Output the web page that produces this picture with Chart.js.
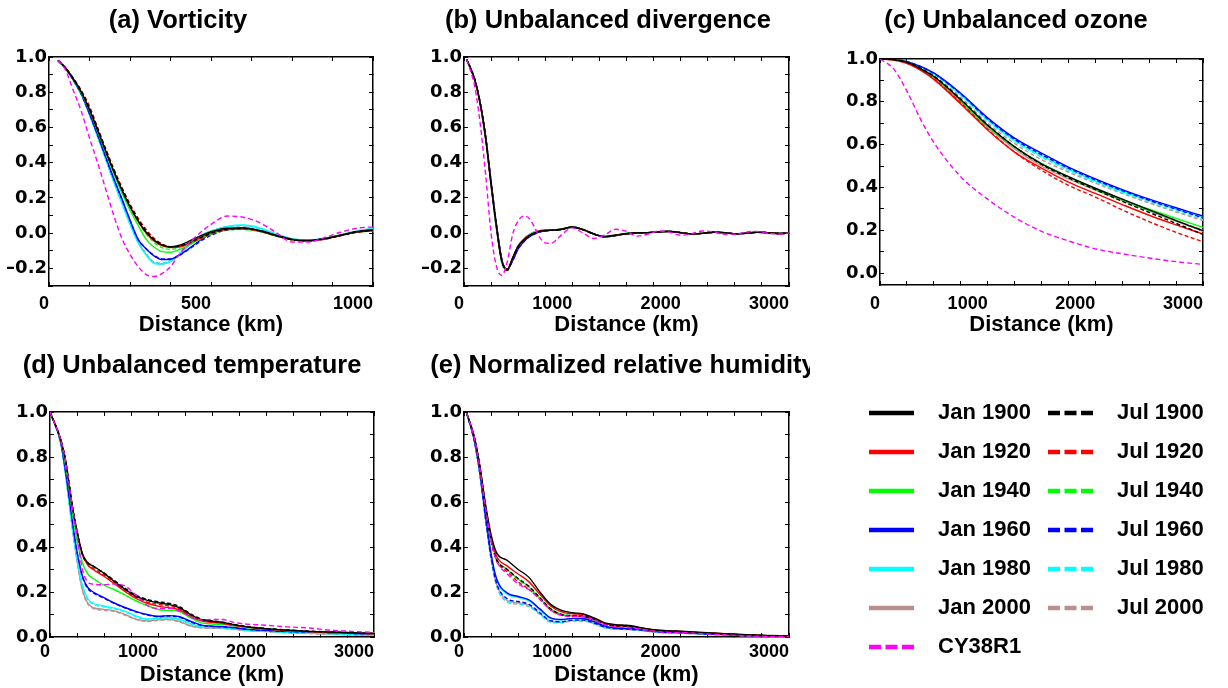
<!DOCTYPE html>
<html><head><meta charset="utf-8">
<script src="https://cdn.jsdelivr.net/npm/chart.js@4.4.1/dist/chart.umd.min.js"></script>
<style>
html,body{margin:0;padding:0;background:#fff;width:1228px;height:688px;overflow:hidden;position:relative}
canvas{position:absolute}
</style></head><body>
<canvas id="cA" width="400" height="345" style="left:0px;top:0px"></canvas>
<canvas id="cB" width="400" height="345" style="left:410px;top:0px"></canvas>
<canvas id="cC" width="402" height="345" style="left:826px;top:0px"></canvas>
<canvas id="cD" width="400" height="370" style="left:0px;top:318px"></canvas>
<canvas id="cE" width="400" height="370" style="left:410px;top:318px"></canvas>
<canvas id="cL" width="420" height="300" style="left:852px;top:385px"></canvas>
<script>
// ---------- series meta ----------
const seriesNames = ['Jan 1900','Jul 1900','Jan 1920','Jul 1920','Jan 1940','Jul 1940','Jan 1960','Jul 1960','Jan 1980','Jul 1980','Jan 2000','Jul 2000','CY38R1'];
const seriesColors = ['#000000','#000000','#ff0000','#ff0000','#00ff00','#00ff00','#0000ff','#0000ff','#00ffff','#00ffff','#bc8f8f','#bc8f8f','#ff00ff'];
const seriesDashed = [false,true,false,true,false,true,false,true,false,true,false,true,true];
const legendOrder = [0,2,4,6,8,10,12,1,3,5,7,9,11];

// ---------- tick lists ----------
const xTicks1000 = [0,125,250,375,500,625,750,875,1000];
const xLabels1000 = [0,500,1000];
const xTicks3000 = [0,250,500,750,1000,1250,1500,1750,2000,2250,2500,2750,3000];
const xLabels3000 = [0,1000,2000,3000];
const yTicksNeg = [-0.3,-0.2,-0.1,0,0.1,0.2,0.3,0.4,0.5,0.6,0.7,0.8,0.9,1.0];
const yTicksPos = [0,0.1,0.2,0.3,0.4,0.5,0.6,0.7,0.8,0.9,1.0];
const yLabels = [-0.2,0,0.2,0.4,0.6,0.8,1.0];

// ---------- (a) Vorticity ----------
const distA = [28,50,75,100,125,150,175,200,225,250,275,300,325,350,375,400,425,450,475,500,550,600,650,700,750,800,850,900,950,1000];
const vortJan1900 = [0.98,0.94,0.875,0.80,0.70,0.585,0.465,0.35,0.245,0.15,0.07,0.005,-0.04,-0.068,-0.077,-0.07,-0.052,-0.03,-0.01,0.008,0.028,0.03,0.015,-0.012,-0.035,-0.042,-0.032,-0.012,0.008,0.018];
const vortJul1900 = [0.98,0.94,0.878,0.805,0.71,0.595,0.475,0.36,0.255,0.16,0.078,0.012,-0.035,-0.065,-0.078,-0.075,-0.06,-0.04,-0.02,0.0,0.022,0.027,0.013,-0.014,-0.037,-0.043,-0.033,-0.013,0.006,0.016];
const vortJan1920 = [0.98,0.94,0.876,0.80,0.702,0.588,0.468,0.352,0.246,0.15,0.068,0.0,-0.045,-0.072,-0.082,-0.078,-0.062,-0.04,-0.018,0.002,0.022,0.025,0.012,-0.014,-0.037,-0.044,-0.034,-0.014,0.006,0.015];
const vortJul1920 = [0.98,0.94,0.88,0.81,0.72,0.60,0.48,0.365,0.26,0.165,0.085,0.02,-0.03,-0.062,-0.078,-0.078,-0.065,-0.045,-0.025,-0.005,0.02,0.025,0.012,-0.015,-0.038,-0.045,-0.035,-0.015,0.005,0.015];
const vortJan1940 = [0.98,0.94,0.874,0.795,0.695,0.578,0.455,0.338,0.228,0.13,0.045,-0.035,-0.08,-0.105,-0.108,-0.095,-0.075,-0.05,-0.026,-0.005,0.02,0.022,0.01,-0.015,-0.036,-0.041,-0.031,-0.011,0.005,0.012];
const vortJul1940 = [0.98,0.94,0.877,0.80,0.705,0.59,0.467,0.352,0.245,0.148,0.063,-0.005,-0.055,-0.083,-0.092,-0.085,-0.066,-0.044,-0.022,-0.002,0.02,0.024,0.011,-0.015,-0.037,-0.042,-0.032,-0.012,0.006,0.014];
const vortJan1960 = [0.98,0.938,0.87,0.79,0.68,0.56,0.435,0.31,0.195,0.075,-0.035,-0.09,-0.13,-0.15,-0.148,-0.127,-0.097,-0.063,-0.03,-0.005,0.025,0.03,0.015,-0.012,-0.035,-0.042,-0.03,-0.012,0.008,0.02];
const vortJul1960 = [0.98,0.938,0.87,0.788,0.678,0.557,0.432,0.307,0.192,0.073,-0.035,-0.088,-0.127,-0.146,-0.146,-0.128,-0.1,-0.068,-0.037,-0.012,0.018,0.022,0.01,-0.015,-0.037,-0.043,-0.031,-0.012,0.007,0.018];
const vortJan1980 = [0.98,0.937,0.868,0.785,0.672,0.548,0.42,0.29,0.17,0.05,-0.055,-0.125,-0.172,-0.175,-0.16,-0.125,-0.08,-0.04,-0.008,0.012,0.038,0.046,0.03,-0.004,-0.032,-0.04,-0.03,-0.01,0.012,0.028];
const vortJul1980 = [0.98,0.937,0.868,0.786,0.674,0.55,0.423,0.293,0.173,0.054,-0.05,-0.12,-0.167,-0.17,-0.155,-0.121,-0.078,-0.039,-0.008,0.011,0.035,0.042,0.026,-0.006,-0.034,-0.041,-0.03,-0.01,0.01,0.025];
const vortJan2000 = [0.98,0.937,0.868,0.786,0.674,0.55,0.423,0.294,0.175,0.056,-0.05,-0.122,-0.17,-0.175,-0.16,-0.126,-0.082,-0.042,-0.01,0.01,0.036,0.044,0.028,-0.005,-0.033,-0.041,-0.03,-0.01,0.011,0.026];
const vortJul2000 = [0.98,0.937,0.869,0.787,0.676,0.552,0.426,0.297,0.178,0.06,-0.045,-0.117,-0.165,-0.17,-0.155,-0.121,-0.078,-0.04,-0.009,0.01,0.034,0.042,0.026,-0.006,-0.033,-0.041,-0.03,-0.01,0.011,0.026];
const vortCY38R1 = [0.98,0.93,0.81,0.69,0.54,0.40,0.25,0.10,-0.03,-0.12,-0.19,-0.235,-0.246,-0.228,-0.19,-0.125,-0.07,-0.025,0.015,0.05,0.097,0.09,0.06,0.005,-0.05,-0.05,-0.025,0.005,0.028,0.036];

// ---------- (b) Unbalanced divergence ----------
const distB = [25,50,100,150,200,250,300,350,400,450,500,550,600,650,700,750,800,850,900,1000,1100,1200,1300,1400,1500,1600,1700,1800,1900,2000,2100,2200,2300,2400,2500,2600,2700,2800,2900,3000];
const divJan1900 = [0.985,0.95,0.87,0.735,0.54,0.28,0.035,-0.16,-0.205,-0.14,-0.075,-0.04,-0.015,0.0,0.01,0.015,0.017,0.018,0.022,0.035,0.02,-0.005,-0.02,-0.012,-0.003,0.002,0.003,0.008,0.01,0.003,-0.004,-0.001,0.005,0.003,-0.003,-0.001,0.005,0.003,-0.002,0.0];
const divJul1900 = [0.985,0.95,0.87,0.737,0.545,0.285,0.04,-0.158,-0.21,-0.145,-0.078,-0.042,-0.016,0.0,0.01,0.014,0.016,0.018,0.022,0.034,0.019,-0.006,-0.021,-0.013,-0.003,0.002,0.003,0.008,0.01,0.003,-0.004,-0.001,0.005,0.003,-0.003,-0.001,0.005,0.003,-0.002,0.0];
const divJan1920 = [0.985,0.95,0.868,0.733,0.538,0.278,0.032,-0.162,-0.205,-0.138,-0.073,-0.038,-0.013,0.002,0.012,0.016,0.018,0.019,0.023,0.034,0.02,-0.005,-0.019,-0.011,-0.003,0.002,0.003,0.008,0.01,0.003,-0.004,-0.001,0.005,0.003,-0.003,-0.001,0.005,0.003,-0.002,0.0];
const divJul1920 = [0.985,0.95,0.87,0.736,0.542,0.283,0.038,-0.16,-0.21,-0.143,-0.077,-0.041,-0.015,0.001,0.011,0.015,0.017,0.018,0.022,0.034,0.019,-0.006,-0.02,-0.012,-0.003,0.002,0.003,0.008,0.01,0.003,-0.004,-0.001,0.005,0.003,-0.003,-0.001,0.005,0.003,-0.002,0.0];
const divJan1940 = [0.985,0.95,0.868,0.732,0.536,0.276,0.03,-0.163,-0.207,-0.14,-0.074,-0.038,-0.013,0.003,0.013,0.017,0.019,0.02,0.024,0.035,0.02,-0.005,-0.019,-0.011,-0.002,0.002,0.003,0.008,0.01,0.003,-0.004,-0.001,0.005,0.003,-0.003,-0.001,0.005,0.003,-0.002,0.0];
const divJul1940 = [0.985,0.95,0.869,0.735,0.54,0.281,0.036,-0.161,-0.209,-0.142,-0.076,-0.04,-0.014,0.002,0.012,0.016,0.018,0.019,0.023,0.034,0.019,-0.006,-0.02,-0.012,-0.003,0.002,0.003,0.008,0.01,0.003,-0.004,-0.001,0.005,0.003,-0.003,-0.001,0.005,0.003,-0.002,0.0];
const divJan1960 = [0.985,0.952,0.872,0.74,0.55,0.295,0.05,-0.15,-0.205,-0.155,-0.09,-0.05,-0.022,-0.005,0.007,0.013,0.016,0.018,0.022,0.035,0.021,-0.004,-0.02,-0.013,-0.004,0.001,0.003,0.008,0.01,0.003,-0.004,-0.001,0.005,0.003,-0.003,-0.001,0.005,0.003,-0.002,0.0];
const divJul1960 = [0.985,0.952,0.872,0.74,0.549,0.293,0.048,-0.152,-0.207,-0.155,-0.09,-0.05,-0.022,-0.005,0.006,0.012,0.015,0.017,0.021,0.034,0.02,-0.005,-0.021,-0.013,-0.004,0.001,0.003,0.008,0.01,0.003,-0.004,-0.001,0.005,0.003,-0.003,-0.001,0.005,0.003,-0.002,0.0];
const divJan1980 = [0.985,0.95,0.868,0.732,0.535,0.272,0.025,-0.168,-0.21,-0.14,-0.072,-0.035,-0.01,0.005,0.014,0.018,0.019,0.02,0.023,0.034,0.02,-0.005,-0.019,-0.011,-0.002,0.002,0.003,0.008,0.01,0.003,-0.004,-0.001,0.005,0.003,-0.003,-0.001,0.005,0.003,-0.002,0.0];
const divJul1980 = [0.985,0.95,0.867,0.731,0.534,0.271,0.024,-0.169,-0.211,-0.141,-0.072,-0.035,-0.01,0.005,0.014,0.018,0.019,0.02,0.023,0.033,0.019,-0.005,-0.019,-0.011,-0.002,0.002,0.003,0.008,0.01,0.003,-0.004,-0.001,0.005,0.003,-0.003,-0.001,0.005,0.003,-0.002,0.0];
const divJan2000 = [0.985,0.95,0.866,0.73,0.532,0.27,0.022,-0.17,-0.212,-0.14,-0.07,-0.033,-0.008,0.007,0.015,0.019,0.02,0.02,0.023,0.033,0.019,-0.005,-0.018,-0.01,-0.002,0.002,0.003,0.008,0.01,0.003,-0.004,-0.001,0.005,0.003,-0.003,-0.001,0.005,0.003,-0.002,0.0];
const divJul2000 = [0.985,0.95,0.866,0.73,0.533,0.271,0.023,-0.169,-0.212,-0.141,-0.071,-0.034,-0.009,0.006,0.015,0.018,0.019,0.02,0.023,0.033,0.019,-0.005,-0.018,-0.01,-0.002,0.002,0.003,0.008,0.01,0.003,-0.004,-0.001,0.005,0.003,-0.003,-0.001,0.005,0.003,-0.002,0.0];
const divCY38R1 = [0.985,0.94,0.83,0.62,0.33,0.0,-0.19,-0.24,-0.16,-0.005,0.07,0.097,0.085,0.035,-0.025,-0.055,-0.058,-0.04,-0.01,0.03,0.0,-0.03,-0.01,0.022,0.01,-0.017,-0.005,0.012,0.005,-0.012,-0.003,0.012,0.008,-0.006,-0.006,0.006,0.01,0.0,-0.005,0.0];

// ---------- (c) Unbalanced ozone ----------
const distC = [0,125,250,375,500,750,1000,1250,1500,1750,2000,2250,2500,2750,3000];
const ozoneJan1900 = [1.0,0.997,0.985,0.955,0.918,0.81,0.69,0.59,0.51,0.45,0.396,0.345,0.295,0.245,0.198];
const ozoneJul1900 = [1.0,0.997,0.985,0.957,0.92,0.812,0.692,0.59,0.508,0.445,0.39,0.335,0.283,0.232,0.18];
const ozoneJan1920 = [1.0,0.995,0.98,0.948,0.905,0.79,0.668,0.565,0.49,0.425,0.372,0.32,0.27,0.225,0.182];
const ozoneJul1920 = [1.0,0.995,0.98,0.95,0.908,0.795,0.672,0.565,0.48,0.41,0.355,0.295,0.24,0.19,0.146];
const ozoneJan1940 = [1.0,0.997,0.985,0.953,0.915,0.805,0.685,0.588,0.512,0.45,0.392,0.343,0.298,0.255,0.213];
const ozoneJul1940 = [1.0,0.997,0.985,0.955,0.918,0.808,0.688,0.59,0.51,0.448,0.39,0.338,0.29,0.245,0.2];
const ozoneJan1960 = [1.0,0.998,0.988,0.966,0.935,0.84,0.725,0.63,0.56,0.495,0.44,0.39,0.345,0.305,0.266];
const ozoneJul1960 = [1.0,0.998,0.988,0.965,0.933,0.837,0.72,0.625,0.553,0.49,0.435,0.385,0.34,0.298,0.258];
const ozoneJan1980 = [1.0,0.998,0.987,0.963,0.93,0.832,0.715,0.62,0.548,0.485,0.43,0.382,0.338,0.298,0.26];
const ozoneJul1980 = [1.0,0.998,0.987,0.962,0.93,0.83,0.712,0.615,0.542,0.48,0.425,0.377,0.332,0.29,0.25];
const ozoneJan2000 = [1.0,0.996,0.983,0.951,0.912,0.8,0.68,0.58,0.5,0.44,0.388,0.338,0.29,0.242,0.195];
const ozoneJul2000 = [1.0,0.997,0.986,0.96,0.925,0.82,0.7,0.605,0.53,0.472,0.42,0.372,0.327,0.285,0.245];
const ozoneCY38R1 = [1.0,0.955,0.85,0.72,0.61,0.45,0.345,0.26,0.195,0.15,0.113,0.09,0.07,0.053,0.04];

// ---------- (d) Unbalanced temperature ----------
const distD = [0,100,150,200,250,300,350,400,500,600,700,800,900,1000,1100,1200,1300,1400,1500,1600,1700,1800,1900,2000,2200,2400,2600,2800,3000];
const tempJan1900 = [1.0,0.875,0.77,0.6,0.47,0.37,0.33,0.315,0.283,0.245,0.21,0.18,0.163,0.152,0.145,0.13,0.1,0.078,0.07,0.065,0.055,0.047,0.041,0.037,0.03,0.025,0.022,0.019,0.016];
const tempJul1900 = [1.0,0.875,0.77,0.6,0.47,0.37,0.33,0.315,0.285,0.25,0.215,0.185,0.167,0.157,0.15,0.135,0.103,0.08,0.072,0.066,0.056,0.048,0.042,0.038,0.031,0.026,0.022,0.019,0.016];
const tempJan1920 = [1.0,0.875,0.77,0.6,0.468,0.365,0.32,0.3,0.27,0.235,0.2,0.17,0.15,0.137,0.13,0.12,0.092,0.072,0.065,0.06,0.052,0.045,0.04,0.035,0.029,0.024,0.02,0.017,0.014];
const tempJul1920 = [1.0,0.875,0.77,0.6,0.468,0.365,0.322,0.305,0.275,0.24,0.205,0.175,0.155,0.145,0.138,0.125,0.095,0.074,0.067,0.062,0.053,0.046,0.041,0.036,0.03,0.025,0.021,0.018,0.015];
const tempJan1940 = [1.0,0.87,0.75,0.58,0.43,0.33,0.28,0.26,0.23,0.21,0.185,0.16,0.14,0.122,0.118,0.113,0.085,0.063,0.058,0.055,0.05,0.043,0.038,0.035,0.028,0.024,0.02,0.017,0.014];
const tempJul1940 = [1.0,0.875,0.77,0.6,0.47,0.368,0.328,0.312,0.282,0.245,0.212,0.182,0.163,0.153,0.147,0.132,0.1,0.078,0.07,0.064,0.055,0.047,0.041,0.037,0.03,0.025,0.021,0.018,0.015];
const tempJan1960 = [1.0,0.865,0.72,0.54,0.38,0.27,0.22,0.2,0.175,0.15,0.13,0.113,0.1,0.092,0.095,0.09,0.07,0.053,0.048,0.046,0.042,0.036,0.032,0.03,0.025,0.023,0.02,0.016,0.014];
const tempJul1960 = [1.0,0.865,0.72,0.54,0.38,0.268,0.215,0.196,0.172,0.148,0.128,0.111,0.098,0.09,0.093,0.088,0.068,0.052,0.047,0.045,0.041,0.035,0.031,0.029,0.024,0.022,0.019,0.015,0.013];
const tempJan1980 = [1.0,0.86,0.705,0.515,0.35,0.23,0.17,0.15,0.138,0.128,0.113,0.093,0.08,0.084,0.087,0.079,0.06,0.046,0.043,0.042,0.038,0.032,0.028,0.026,0.021,0.018,0.015,0.012,0.01];
const tempJul1980 = [1.0,0.86,0.705,0.515,0.35,0.228,0.166,0.146,0.134,0.125,0.11,0.09,0.077,0.081,0.084,0.076,0.058,0.045,0.042,0.041,0.037,0.031,0.027,0.025,0.02,0.017,0.014,0.011,0.009];
const tempJan2000 = [1.0,0.86,0.7,0.51,0.34,0.21,0.15,0.13,0.123,0.116,0.099,0.079,0.071,0.076,0.079,0.069,0.05,0.042,0.04,0.039,0.035,0.03,0.027,0.025,0.02,0.016,0.013,0.01,0.009];
const tempJul2000 = [1.0,0.86,0.7,0.51,0.34,0.208,0.147,0.127,0.119,0.113,0.096,0.077,0.069,0.074,0.077,0.067,0.049,0.041,0.039,0.038,0.034,0.029,0.026,0.024,0.019,0.015,0.012,0.009,0.008];
const tempCY38R1 = [1.0,0.875,0.77,0.6,0.455,0.3,0.245,0.235,0.232,0.236,0.225,0.185,0.14,0.127,0.127,0.115,0.09,0.076,0.078,0.078,0.065,0.058,0.055,0.052,0.045,0.04,0.03,0.025,0.02];

// ---------- (e) Normalized relative humidity ----------
const distE = [25,100,150,200,250,300,400,500,600,700,800,900,1000,1100,1200,1300,1400,1500,1600,1700,1800,1900,2000,2200,2400,2600,2800,3000];
const rhJan1900 = [0.995,0.88,0.75,0.585,0.455,0.375,0.34,0.3,0.265,0.2,0.145,0.118,0.108,0.103,0.085,0.063,0.055,0.052,0.045,0.036,0.03,0.027,0.026,0.02,0.015,0.01,0.007,0.005];
const rhJul1900 = [0.995,0.875,0.74,0.57,0.43,0.345,0.3,0.26,0.225,0.175,0.125,0.1,0.095,0.093,0.078,0.057,0.05,0.048,0.042,0.034,0.028,0.025,0.024,0.018,0.014,0.009,0.006,0.004];
const rhJan1920 = [0.995,0.878,0.745,0.578,0.445,0.36,0.315,0.28,0.245,0.19,0.138,0.112,0.103,0.1,0.082,0.06,0.053,0.05,0.044,0.035,0.029,0.026,0.025,0.019,0.015,0.01,0.006,0.004];
const rhJul1920 = [0.995,0.875,0.74,0.568,0.428,0.34,0.29,0.245,0.212,0.168,0.12,0.097,0.092,0.09,0.076,0.055,0.048,0.046,0.04,0.032,0.027,0.024,0.023,0.017,0.013,0.008,0.005,0.003];
const rhJan1940 = [0.995,0.876,0.742,0.572,0.433,0.347,0.3,0.258,0.223,0.172,0.125,0.1,0.094,0.092,0.078,0.058,0.05,0.048,0.042,0.034,0.028,0.025,0.024,0.018,0.014,0.009,0.006,0.004];
const rhJul1940 = [0.995,0.876,0.742,0.572,0.433,0.346,0.298,0.255,0.22,0.17,0.123,0.099,0.093,0.091,0.077,0.057,0.05,0.047,0.041,0.033,0.027,0.025,0.024,0.018,0.014,0.009,0.006,0.004];
const rhJan1960 = [0.995,0.865,0.72,0.535,0.37,0.26,0.195,0.18,0.165,0.125,0.085,0.078,0.083,0.082,0.068,0.048,0.04,0.038,0.035,0.029,0.024,0.021,0.02,0.015,0.012,0.008,0.005,0.004];
const rhJul1960 = [0.995,0.862,0.715,0.525,0.355,0.24,0.17,0.158,0.145,0.108,0.072,0.068,0.075,0.075,0.062,0.044,0.037,0.035,0.032,0.027,0.022,0.02,0.019,0.014,0.011,0.007,0.004,0.003];
const rhJan1980 = [0.995,0.865,0.72,0.533,0.367,0.255,0.19,0.176,0.16,0.12,0.082,0.076,0.082,0.081,0.067,0.047,0.039,0.037,0.034,0.028,0.023,0.021,0.02,0.015,0.012,0.008,0.005,0.004];
const rhJul1980 = [0.995,0.86,0.712,0.52,0.35,0.232,0.158,0.148,0.138,0.102,0.068,0.065,0.073,0.073,0.06,0.042,0.036,0.034,0.031,0.026,0.021,0.019,0.018,0.013,0.01,0.006,0.004,0.003];
const rhJan2000 = [0.995,0.86,0.712,0.52,0.35,0.235,0.162,0.152,0.14,0.104,0.07,0.066,0.074,0.074,0.061,0.043,0.036,0.034,0.031,0.026,0.021,0.019,0.018,0.013,0.01,0.006,0.004,0.003];
const rhJul2000 = [0.995,0.858,0.71,0.515,0.345,0.228,0.155,0.146,0.135,0.1,0.066,0.063,0.071,0.071,0.059,0.041,0.035,0.033,0.03,0.025,0.02,0.018,0.017,0.012,0.009,0.006,0.003,0.002];
const rhCY38R1 = [0.995,0.875,0.74,0.57,0.43,0.34,0.28,0.235,0.21,0.168,0.12,0.097,0.092,0.09,0.075,0.055,0.045,0.042,0.038,0.03,0.023,0.02,0.02,0.015,0.01,0.005,0.003,0.003];

// ---------- helpers ----------
const LIB = '"Liberation Sans", Arial, Helvetica, sans-serif';
const DJV = '"DejaVu Sans", sans-serif';

const panelTitlePlugin = {
  id: 'panelTitle',
  afterDraw(chart, args, opts) {
    if (!opts || !opts.text) return;
    const ctx = chart.ctx;
    ctx.save();
    ctx.font = 'bold 25.5px ' + LIB;
    ctx.fillStyle = '#000';
    ctx.textAlign = 'center';
    ctx.textBaseline = 'middle';
    ctx.fillText(opts.text, opts.x, opts.y);
    ctx.restore();
  }
};

function setTicks(values) { return function (scale) { scale.ticks = values.map(v => ({ value: v })); }; }
function inList(list, v) { return list.some(t => Math.abs(t - v) < 1e-6); }

function buildDatasets(dist, arrays) {
  return seriesNames.map((name, i) => ({
    label: name,
    data: dist.map((d, k) => ({ x: d, y: arrays[i][k] })),
    borderColor: seriesColors[i],
    backgroundColor: seriesColors[i],
    borderWidth: 1.4,
    borderDash: seriesDashed[i] ? (i === 12 ? [5, 3] : [4, 2.5]) : [],
    pointRadius: 0,
    fill: false,
    cubicInterpolationMode: 'monotone',
    order: i === 12 ? 0 : i + 1
  }));
}

function makePanel(id, p) {
  const grid = { display: true, drawOnChartArea: false, drawTicks: true, tickLength: -4, tickWidth: 1, tickColor: '#000' };
  const border = { display: true, color: '#000', width: 1.5 };
  return new Chart(document.getElementById(id), {
    type: 'line',
    data: { datasets: buildDatasets(p.dist, p.series) },
    plugins: [panelTitlePlugin],
    options: {
      responsive: false, animation: false, events: [],
      layout: { padding: { left: 0, right: p.padRight, top: p.padTop, bottom: 0 } },
      plugins: {
        legend: { display: false }, tooltip: { enabled: false },
        panelTitle: { text: p.title, x: p.titleX, y: p.titleY }
      },
      scales: {
        x: {
          type: 'linear', position: 'bottom', min: 0, max: p.xMax,
          afterBuildTicks: setTicks(p.xTicks), grid: grid, border: border,
          ticks: { autoSkip: false, maxRotation: 0, minRotation: 0, align: 'end', padding: p.xTickPad, color: '#000',
            font: { family: LIB, size: 18, weight: 'bold' },
            callback: v => inList(p.xLabels, v) ? String(v) : '' },
          title: { display: true, text: 'Distance (km)', color: '#000', font: { family: LIB, size: 22, weight: 'bold' },
            padding: { top: 0, bottom: p.xTitlePad } },
          afterFit: s => { s.height = p.xHeight; }
        },
        x2: {
          type: 'linear', position: 'top', min: 0, max: p.xMax,
          afterBuildTicks: setTicks(p.xTicks), grid: grid, border: border,
          ticks: { display: false }, afterFit: s => { s.height = 0; }
        },
        y: {
          type: 'linear', position: 'left', min: p.yMin, max: 1.0,
          afterBuildTicks: setTicks(p.yTicks), grid: grid, border: border,
          ticks: { autoSkip: false, padding: 6, color: '#000', font: { family: DJV, size: 18, weight: 'bold' },
            callback: v => inList(yLabels, v) ? v.toFixed(1).replace('-', '\u2013') : '' },
          afterFit: s => { s.width = p.yWidth; }
        },
        y2: {
          type: 'linear', position: 'right', min: p.yMin, max: 1.0,
          afterBuildTicks: setTicks(p.yTicks), grid: grid, border: border,
          ticks: { display: false }, afterFit: s => { s.width = 0; }
        }
      }
    }
  });
}

makePanel('cA', { dist: distA, series: [vortJan1900,vortJul1900,vortJan1920,vortJul1920,vortJan1940,vortJul1940,vortJan1960,vortJul1960,vortJan1980,vortJul1980,vortJan2000,vortJul2000,vortCY38R1],
  xMax: 1000, xTicks: xTicks1000, xLabels: xLabels1000, yMin: -0.3, yTicks: yTicksNeg,
  yWidth: 49, padRight: 27, padTop: 57, xHeight: 59, xTickPad: 11, xTitlePad: 7,
  title: '(a) Vorticity', titleX: 178, titleY: 21 });

makePanel('cB', { dist: distB, series: [divJan1900,divJul1900,divJan1920,divJul1920,divJan1940,divJul1940,divJan1960,divJul1960,divJan1980,divJul1980,divJan2000,divJul2000,divCY38R1],
  xMax: 3000, xTicks: xTicks3000, xLabels: xLabels3000, yMin: -0.3, yTicks: yTicksNeg,
  yWidth: 54, padRight: 21, padTop: 57, xHeight: 59, xTickPad: 11, xTitlePad: 7,
  title: '(b) Unbalanced divergence', titleX: 198, titleY: 21 });

makePanel('cC', { dist: distC, series: [ozoneJan1900,ozoneJul1900,ozoneJan1920,ozoneJul1920,ozoneJan1940,ozoneJul1940,ozoneJan1960,ozoneJul1960,ozoneJan1980,ozoneJul1980,ozoneJan2000,ozoneJul2000,ozoneCY38R1],
  xMax: 3000, xTicks: xTicks3000, xLabels: xLabels3000, yMin: -0.056, yTicks: yTicksPos,
  yWidth: 54, padRight: 25, padTop: 59, xHeight: 60, xTickPad: 12, xTitlePad: 7,
  title: '(c) Unbalanced ozone', titleX: 190, titleY: 21 });

makePanel('cD', { dist: distD, series: [tempJan1900,tempJul1900,tempJan1920,tempJul1920,tempJan1940,tempJul1940,tempJan1960,tempJul1960,tempJan1980,tempJul1980,tempJan2000,tempJul2000,tempCY38R1],
  xMax: 3000, xTicks: xTicks3000, xLabels: xLabels3000, yMin: 0, yTicks: yTicksPos,
  yWidth: 50, padRight: 26, padTop: 94, xHeight: 51, xTickPad: 8, xTitlePad: 0,
  title: '(d) Unbalanced temperature', titleX: 192, titleY: 48 });

makePanel('cE', { dist: distE, series: [rhJan1900,rhJul1900,rhJan1920,rhJul1920,rhJan1940,rhJul1940,rhJan1960,rhJul1960,rhJan1980,rhJul1980,rhJan2000,rhJul2000,rhCY38R1],
  xMax: 3000, xTicks: xTicks3000, xLabels: xLabels3000, yMin: 0, yTicks: yTicksPos,
  yWidth: 54, padRight: 21, padTop: 94, xHeight: 51, xTickPad: 8, xTitlePad: 0,
  title: '(e) Normalized relative humidity', titleX: 213, titleY: 48 });

// ---------- legend ----------
function legendSwatch(color, dashed) {
  const c = document.createElement('canvas');
  c.width = 58; c.height = 8;
  const g = c.getContext('2d');
  g.strokeStyle = color; g.lineWidth = 4.5; g.lineCap = 'butt';
  if (dashed) g.setLineDash([12, 4.5]);
  g.beginPath(); g.moveTo(0, 4); g.lineTo(45, 4); g.stroke();
  return c;
}

new Chart(document.getElementById('cL'), {
  type: 'line',
  data: { datasets: legendOrder.map(i => ({ label: seriesNames[i], data: [], borderColor: seriesColors[i], backgroundColor: seriesColors[i], borderDash: seriesDashed[i] ? [12, 4.5] : [] })) },
  options: {
    responsive: false, animation: false, events: [],
    layout: { padding: 0 },
    scales: { x: { display: false }, y: { display: false } },
    plugins: {
      tooltip: { enabled: false },
      legend: {
        display: true, position: 'left', align: 'start', maxWidth: 420,
        labels: {
          usePointStyle: true, pointStyleWidth: 58, padding: 17, color: '#000',
          font: { family: LIB, size: 22, weight: 'bold' },
          generateLabels: chart => chart.data.datasets.map((ds, k) => ({
            text: ds.label,
            pointStyle: legendSwatch(ds.borderColor, ds.borderDash.length > 0),
            fillStyle: ds.borderColor, strokeStyle: ds.borderColor, lineWidth: 0,
            hidden: false, datasetIndex: k, fontColor: '#000'
          }))
        }
      }
    }
  }
});
</script>
</body></html>
